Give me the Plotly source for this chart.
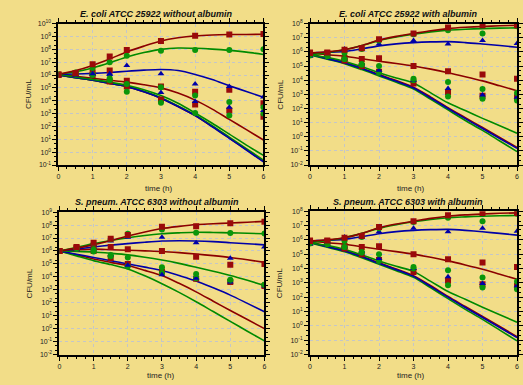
import plotly.graph_objects as go

# ---------------- data (log10 CFU/mL) ----------------
t_pts = [0, 0.5, 1, 1.5, 2, 3, 4, 5, 6]
t_line = [0, 0.5, 1, 1.5, 2, 2.5, 3, 3.5, 4, 4.5, 5, 5.5, 6]

titles = ["E. coli ATCC 25922 without albumin", "E. coli ATCC 25922 with albumin",
          "S. pneum. ATCC 6303 without albumin", "S. pneum. ATCC 6303 with albumin"]
y_ranges = [(-1, 10), (-2, 8), (-2, 9), (-2, 8)]

# Panel 1: E. coli without albumin
p1_lines = {
    "R1": [6.05, 6.35, 6.75, 7.25, 7.8, 8.25, 8.65, 8.9, 9.05, 9.12, 9.15, 9.16, 9.17],
    "G1": [6.05, 6.25, 6.55, 6.95, 7.4, 7.75, 8.0, 8.1, 8.08, 8.02, 7.92, 7.78, 7.6],
    "B1": [6.05, 6.08, 6.13, 6.2, 6.3, 6.38, 6.43, 6.35, 6.05, 5.65, 5.17, 4.72, 4.27],
    "R2": [6.05, 5.9, 5.75, 5.6, 5.45, 5.25, 5.0, 4.6, 4.05, 3.35, 2.55, 1.75, 0.95],
    "G2": [6.05, 5.85, 5.65, 5.45, 5.2, 4.85, 4.4, 3.8, 3.05, 2.25, 1.4, 0.55, -0.25],
    "R3": [6.0, 5.8, 5.6, 5.35, 5.1, 4.7, 4.2, 3.55, 2.85, 2.0, 1.1, 0.2, -0.72],
    "G3": [6.0, 5.8, 5.6, 5.36, 5.12, 4.73, 4.24, 3.6, 2.9, 2.06, 1.17, 0.28, -0.62],
    "B2": [6.0, 5.8, 5.6, 5.35, 5.1, 4.7, 4.2, 3.55, 2.84, 1.98, 1.08, 0.17, -0.76],
}
p1_pts = {
    "R1": [6.0, 6.15, 6.85, 7.45, 7.95, 8.65, 9.05, 9.15, 9.2],
    "G1": [6.05, 6.2, 6.55, 7.0, 7.5, 7.9, 7.95, 7.95, 8.0],
    "B1": [5.95, 6.0, 6.1, 6.1, 6.75, 6.1, 5.3, 5.1, 4.3],
    "R2": [6.05, 6.1, 6.2, 6.35, 5.55, 5.1, 4.7, 4.85, 3.8],
    "G2": [6.05, 6.1, 6.05, 5.75, 5.3, 5.05, 4.4, 3.9, 3.5],
    "B2": [6.0, 6.0, 6.05, 6.05, 5.4, 4.65, 3.95, 3.5, 3.25],
    "R3": [6.05, 6.1, 6.0, 5.5, 5.1, 4.1, 3.7, 3.25, 2.75],
    "G3": [6.0, 6.05, 6.0, 5.6, 4.7, 3.85, 3.05, 2.85, 3.0],
}

# Panel 2: E. coli with albumin
p2_lines = {
    "R1": [5.92, 6.0, 6.15, 6.45, 6.84, 7.1, 7.3, 7.5, 7.65, 7.74, 7.8, 7.85, 7.88],
    "G1": [5.8, 5.95, 6.15, 6.45, 6.8, 7.05, 7.26, 7.42, 7.54, 7.6, 7.65, 7.68, 7.7],
    "B1": [5.92, 5.97, 6.03, 6.22, 6.43, 6.57, 6.66, 6.71, 6.73, 6.66, 6.56, 6.45, 6.33],
    "R2": [5.92, 5.8, 5.69, 5.52, 5.34, 5.18, 5.0, 4.78, 4.53, 4.25, 3.95, 3.6, 3.25],
    "G2": [5.8, 5.6, 5.34, 4.95, 4.53, 4.15, 3.8, 3.1, 2.4, 1.85, 1.3, 0.78, 0.25],
    "R3": [5.85, 5.55, 5.25, 4.85, 4.4, 3.97, 3.5, 2.8, 2.05, 1.35, 0.65, -0.05, -0.75],
    "B2": [5.82, 5.52, 5.22, 4.82, 4.36, 3.92, 3.45, 2.74, 2.0, 1.28, 0.58, -0.12, -0.82],
    "G3": [5.78, 5.48, 5.17, 4.75, 4.3, 3.85, 3.38, 2.65, 1.9, 1.15, 0.45, -0.3, -1.05],
}
p2_pts = {
    "R1": [5.92, 5.96, 6.15, 6.26, 6.9, 7.3, 7.72, 7.88, 7.88],
    "G1": [5.8, 5.85, 5.92, 6.2, 6.8, 7.25, 7.54, 7.3, 7.82],
    "B1": [5.73, 5.85, 6.2, 6.2, 6.56, 6.8, 6.56, 6.8, 6.6],
    "R2": [5.95, 5.9, 5.57, 5.5, 5.55, 5.0, 4.64, 4.41, 4.11],
    "G2": [5.75, 5.7, 5.5, 5.15, 5.0, 4.1, 3.88, 3.37, 3.09],
    "B2": [5.7, 5.7, 5.5, 5.2, 4.7, 4.0, 3.42, 2.95, 2.8],
    "R3": [5.85, 5.8, 5.4, 5.0, 4.6, 3.76, 3.14, 2.9, 2.8],
    "G3": [5.8, 5.75, 5.5, 5.1, 4.53, 4.0, 2.84, 2.68, 2.56],
}

# Panel 3: S. pneumoniae without albumin
p3_lines = {
    "R1": [6.0, 6.22, 6.47, 6.8, 7.15, 7.46, 7.73, 7.9, 8.04, 8.1, 8.16, 8.22, 8.29],
    "G1": [6.0, 6.27, 6.57, 6.8, 7.02, 7.2, 7.33, 7.4, 7.45, 7.43, 7.4, 7.37, 7.33],
    "B1": [6.0, 6.15, 6.31, 6.45, 6.57, 6.68, 6.77, 6.79, 6.77, 6.72, 6.64, 6.56, 6.47],
    "R2": [6.0, 6.08, 6.14, 6.1, 6.06, 6.01, 5.96, 5.87, 5.76, 5.64, 5.5, 5.32, 5.12],
    "G2": [6.0, 5.97, 5.92, 5.82, 5.7, 5.52, 5.3, 5.04, 4.74, 4.43, 4.1, 3.73, 3.34],
    "B2": [6.0, 5.75, 5.5, 5.25, 5.0, 4.75, 4.49, 4.1, 3.68, 3.15, 2.59, 1.95, 1.3],
    "R3": [6.0, 5.7, 5.38, 5.12, 4.87, 4.5, 4.1, 3.5, 2.84, 2.12, 1.4, 0.7, 0.0],
    "G3": [6.0, 5.62, 5.25, 4.95, 4.61, 4.08, 3.47, 2.8, 2.08, 1.32, 0.56, -0.2, -0.95],
}
p3_pts = {
    "R1": [6.0, 6.3, 6.64, 6.94, 7.23, 7.88, 7.91, 8.14, 8.25],
    "G1": [6.0, 6.2, 6.55, 6.9, 7.33, 7.66, 7.4, 7.38, 7.35],
    "B1": [5.95, 6.15, 6.52, 6.77, 7.07, 7.07, 6.64, 5.43, 6.3],
    "R2": [6.0, 6.25, 6.4, 6.3, 6.14, 6.0, 5.55, 4.94, 5.0],
    "G2": [6.0, 6.2, 6.1, 5.68, 5.5, 4.74, 4.23, 3.78, 3.4],
    "B2": [5.95, 6.1, 6.3, 5.7, 4.9, 4.16, 3.9, 3.6, 3.3],
    "R3": [6.0, 6.2, 6.0, 5.45, 5.0, 4.41, 3.86, 3.6, 3.3],
    "G3": [6.0, 6.15, 5.95, 5.6, 4.8, 4.3, 3.9, 3.7, 3.4],
}

# Panel 4: S. pneumoniae with albumin (reads identical to panel 2)
p4_lines = p2_lines
p4_pts = p2_pts

panels_lines = [p1_lines, p2_lines, p3_lines, p4_lines]
panels_pts = [p1_pts, p2_pts, p3_pts, p4_pts]

# ---------------- style ----------------
BG = "#F2DD88"
GRID = "#C4C6C8"
LINE_COL = {"R": "#8B0000", "G": "#008A00", "B": "#0000A8"}
MARK_COL = {"R": "#9A0A0A", "G": "#0A960A", "B": "#0000A8"}
MARK_SYM = {"R": "square", "G": "circle", "B": "triangle-up"}
FONT = "Liberation Sans, Arial, sans-serif"

W, H = 523, 385
def px_x(a, b):
    return [a / W, b / W]
def px_y(top, bottom):
    return [1 - bottom / H, 1 - top / H]

x_domains = [px_x(57, 264), px_x(311, 520), px_x(58, 265), px_x(311, 520)]
y_domains = [px_y(20, 164), px_y(20, 164), px_y(212, 357), px_y(211, 357)]

fig = go.Figure()

line_order = ["R3", "G3", "B2", "R2", "G2", "B1", "G1", "R1"]
pt_order = ["R3", "G3", "B2", "R2", "G2", "B1", "G1", "R1"]

for i in range(4):
    xa = "x" if i == 0 else f"x{i+1}"
    ya = "y" if i == 0 else f"y{i+1}"
    L = panels_lines[i]
    P = panels_pts[i]
    for k in line_order:
        fig.add_trace(go.Scatter(
            x=t_line, y=[10 ** v for v in L[k]], mode="lines",
            line=dict(color=LINE_COL[k[0]], width=1.6, shape="spline", smoothing=0.8),
            xaxis=xa, yaxis=ya, showlegend=False, hoverinfo="skip"))
    for k in pt_order:
        fig.add_trace(go.Scatter(
            x=t_pts, y=[10 ** v for v in P[k]], mode="markers",
            marker=dict(symbol=MARK_SYM[k[0]], color=MARK_COL[k[0]], size=6,
                        line=dict(width=0)),
            xaxis=xa, yaxis=ya, showlegend=False, hoverinfo="skip"))

layout = dict(
    width=W, height=H, autosize=False,
    margin=dict(l=0, r=0, t=0, b=0),
    paper_bgcolor=BG, plot_bgcolor=BG,
    font=dict(family=FONT, size=7, color="#222"),
    showlegend=False,
)

for i in range(4):
    sx = "xaxis" if i == 0 else f"xaxis{i+1}"
    sy = "yaxis" if i == 0 else f"yaxis{i+1}"
    ya = "y" if i == 0 else f"y{i+1}"
    xa = "x" if i == 0 else f"x{i+1}"
    lo, hi = y_ranges[i]
    exps = list(range(lo, hi + 1))
    layout[sx] = dict(
        domain=x_domains[i], anchor=ya, range=[0, 6], dtick=1, tick0=0,
        showline=True, linecolor="black", linewidth=2, mirror="allticks",
        ticks="outside", ticklen=4, tickwidth=1, tickcolor="black",
        minor=dict(dtick=0.25, ticks="outside", ticklen=2, tickcolor="black", showgrid=False),
        showgrid=True, gridcolor=GRID, griddash="dot", gridwidth=1,
        zeroline=False, tickfont=dict(size=7, color="#222"),
    )
    layout[sy] = dict(
        domain=y_domains[i], anchor=xa, type="log", range=[lo, hi],
        tickvals=[10 ** e for e in exps],
        ticktext=[f"10<sup>{e}</sup>" for e in exps],
        showline=True, linecolor="black", linewidth=2, mirror="allticks",
        ticks="outside", ticklen=4, tickwidth=1, tickcolor="black",
        minor=dict(dtick="D2", ticks="outside", ticklen=2, tickcolor="black", showgrid=False),
        showgrid=True, gridcolor=GRID, griddash="dot", gridwidth=1,
        zeroline=False, tickfont=dict(size=7, color="#222"),
    )

fig.update_layout(**layout)

# titles and axis labels as annotations
title_pos = [(156, 10), (410, 10), (157, 202), (410, 202)]
ylab_pos = [(27, 92), (281, 92), (28, 285), (281, 284)]
xlab_pos = [(158, 188), (412, 188), (160, 378), (412, 378)]

for i in range(4):
    tx, ty = title_pos[i]
    fig.add_annotation(x=tx / W, y=1 - ty / H, xref="paper", yref="paper",
                       text=f"<b><i>{titles[i]}</i></b>", showarrow=False,
                       font=dict(family=FONT, size=9, color="#111"),
                       xanchor="center", yanchor="middle")
    lx, ly = ylab_pos[i]
    fig.add_annotation(x=lx / W, y=1 - ly / H, xref="paper", yref="paper",
                       text="CFU/mL", textangle=-90, showarrow=False,
                       font=dict(family=FONT, size=8, color="#222"),
                       xanchor="center", yanchor="middle")
    bx, by = xlab_pos[i]
    fig.add_annotation(x=bx / W, y=1 - by / H, xref="paper", yref="paper",
                       text="time (h)", showarrow=False,
                       font=dict(family=FONT, size=8, color="#222"),
                       xanchor="center", yanchor="middle")

fig.write_html("out.html",
               config={"displayModeBar": False, "staticPlot": True},
               post_script="document.body.style.margin='0';document.body.style.overflow='hidden';")
